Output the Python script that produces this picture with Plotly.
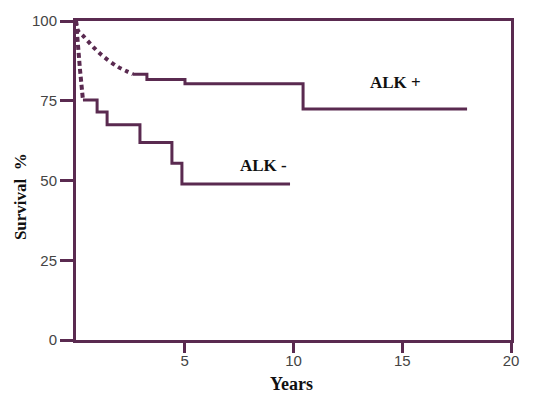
import plotly.graph_objects as go

# ALK+ early (dotted) portion
alk_pos_dot_years = [0, 0.1, 0.32, 1.1, 1.89, 2.34, 2.62]
alk_pos_dot_surv = [100, 96.9, 95.4, 89.8, 85.8, 84.2, 83.3]
# ALK+ step portion
alk_pos_years = [2.62, 3.26, 5.01, 10.44, 17.98]
alk_pos_surv = [83.3, 81.7, 80.3, 72.4, 72.4]

# ALK- early (dotted) portion
alk_neg_dot_years = [0, 0.06, 0.18, 0.32]
alk_neg_dot_surv = [100, 93.5, 85.0, 75.2]
# ALK- step portion
alk_neg_years = [0.32, 0.97, 1.43, 2.94, 4.41, 4.87, 9.84]
alk_neg_surv = [75.2, 71.5, 67.5, 61.9, 55.4, 48.9, 48.9]

x_ticks = [5, 10, 15, 20]
y_ticks = [0, 25, 50, 75, 100]

col = "#5a2a50"

fig = go.Figure()
fig.add_trace(go.Scatter(x=alk_pos_dot_years, y=alk_pos_dot_surv, mode="lines",
                         line=dict(color=col, width=4, dash="4px,4px", shape="spline"),
                         showlegend=False))
fig.add_trace(go.Scatter(x=alk_pos_years, y=alk_pos_surv, mode="lines",
                         line=dict(color=col, width=3, shape="hv"), showlegend=False))
fig.add_trace(go.Scatter(x=alk_neg_dot_years, y=alk_neg_dot_surv, mode="lines",
                         line=dict(color=col, width=4, dash="5px,3px"), showlegend=False))
fig.add_trace(go.Scatter(x=alk_neg_years, y=alk_neg_surv, mode="lines",
                         line=dict(color=col, width=3, shape="hv"), showlegend=False))

fig.add_annotation(x=14.67, y=80.8, text="<b>ALK +</b>", showarrow=False,
                   font=dict(family="Liberation Serif", size=17, color="#111"))
fig.add_annotation(x=8.6, y=54.8, text="<b>ALK -</b>", showarrow=False,
                   font=dict(family="Liberation Serif", size=17, color="#111"))
fig.add_annotation(xref="paper", yref="paper", x=-0.128, y=0.449, text="<b>Survival  %</b>",
                   textangle=-90, showarrow=False, xanchor="center", yanchor="middle",
                   font=dict(family="Liberation Serif", size=17, color="#111"))
fig.add_annotation(xref="paper", yref="paper", x=0.495, y=-0.139, text="<b>Years</b>",
                   showarrow=False, xanchor="center", yanchor="middle",
                   font=dict(family="Liberation Serif", size=18, color="#111"))

fig.update_xaxes(range=[0, 20], tickvals=x_ticks, ticks="outside", ticklen=10, tickwidth=3,
                 tickcolor=col, showline=True, linecolor=col, linewidth=3, mirror=True,
                 showgrid=False, zeroline=False, ticklabelstandoff=-5,
                 tickfont=dict(family="Liberation Sans", size=15, color="#444"))
fig.update_yaxes(range=[0, 100], tickvals=y_ticks, ticks="outside", ticklen=13, tickwidth=3,
                 tickcolor=col, showline=True, linecolor=col, linewidth=3, mirror=True,
                 showgrid=False, zeroline=False,
                 tickfont=dict(family="Liberation Sans", size=15, color="#444"))

fig.update_layout(width=536, height=401, margin=dict(l=76, r=25, t=17, b=61),
                  plot_bgcolor="white", paper_bgcolor="white")

fig.write_html("out.html")
